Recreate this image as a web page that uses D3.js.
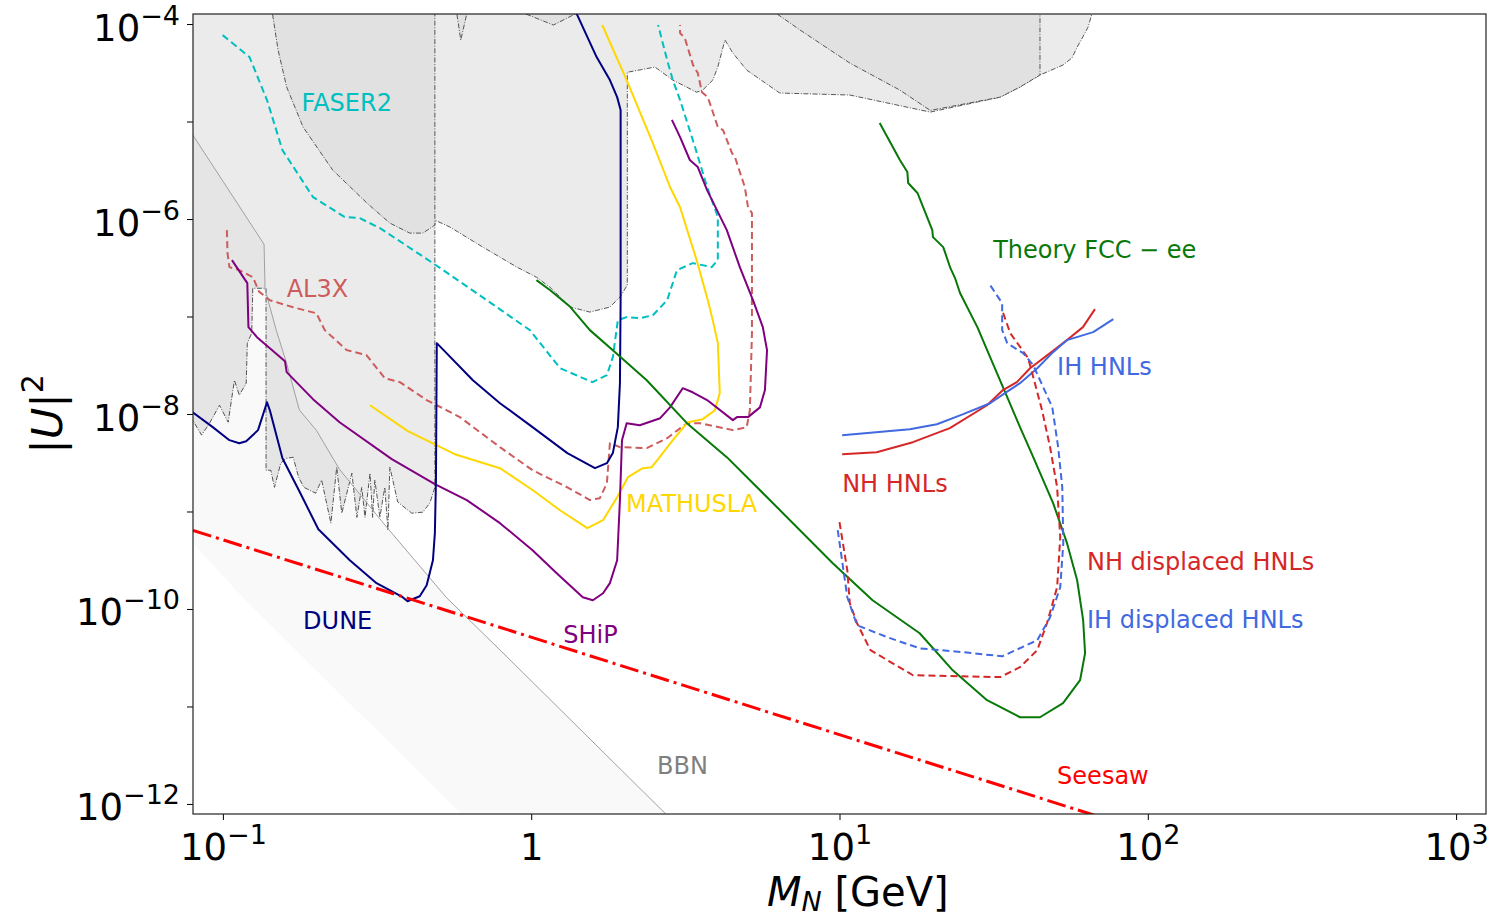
<!DOCTYPE html>
<html>
<head>
<meta charset="utf-8">
<script src="https://cdn.jsdelivr.net/npm/d3@7"></script>
<style>
  body { margin: 0; background: #fff; }
  text { font-family: "DejaVu Sans", sans-serif; }
</style>
</head>
<body>
<div class="canvas"></div>
<script>
// axis ticks
const massTicks = [0.1, 1, 10, 100, 1000]
const massTickLabels = [['10', '−1'], ['1', ''], ['10', '1'], ['10', '2'], ['10', '3']]
const mixingTicks = [1e-4, 1e-5, 1e-6, 1e-7, 1e-8, 1e-9, 1e-10, 1e-11, 1e-12]
const mixingTickLabels = [['10', '−4'], null, ['10', '−6'], null, ['10', '−8'], null, ['10', '−10'], null, ['10', '−12']]

// existing limits (grey areas), [mass GeV, |U|^2]
const excludedMain = [[0.07, 3e-4], [70, 3e-4], [66.8, 1.57e-4], [65.9, 1.27e-4], [64.0, 9.3e-5], [61.6, 7.4e-5], [59.0, 5.8e-5], [56.8, 4.5e-5], [53.1, 3.8e-5], [44.7, 3.0e-5], [38.5, 2.26e-5], [33.2, 1.78e-5], [19.7, 1.25e-5], [10.8, 1.87e-5], [6.40, 1.96e-5], [5.00, 3.37e-5], [4.51, 5.04e-5], [4.25, 6.85e-5], [4.03, 3.62e-5], [3.88, 2.66e-5], [3.60, 2.10e-5], [3.44, 2.0e-5], [2.88, 2.66e-5], [2.52, 3.62e-5], [2.05, 3.2e-5], [2.05, 2.10e-7], [1.94, 1.58e-7], [1.80, 1.25e-7], [1.55, 1.11e-7], [1.34, 1.25e-7], [1.15, 2.0e-7], [1.04, 2.53e-7], [0.899, 3.21e-7], [0.697, 5.15e-7], [0.545, 8.27e-7], [0.487, 9.75e-7], [0.487, 1.77e-9], [0.469, 1.22e-9], [0.445, 9.84e-10], [0.410, 9.6e-10], [0.369, 1.25e-9], [0.348, 2.85e-9], [0.343, 6.4e-10], [0.335, 1.77e-9], [0.323, 8.7e-10], [0.311, 2.1e-9], [0.306, 8.7e-10], [0.300, 2.47e-9], [0.289, 8.7e-10], [0.282, 1.77e-9], [0.272, 8.7e-10], [0.262, 2.47e-9], [0.243, 9.6e-10], [0.234, 2.85e-9], [0.224, 7.6e-10], [0.209, 2.1e-9], [0.200, 1.54e-9], [0.183, 1.77e-9], [0.176, 2.25e-9], [0.169, 3.6e-9], [0.160, 3.5e-9], [0.154, 3.13e-9], [0.147, 1.77e-9], [0.143, 2.65e-9], [0.138, 2.65e-9], [0.138, 1.95e-7], [0.125, 1.95e-7], [0.124, 6.75e-8], [0.120, 5.33e-8], [0.119, 2.07e-8], [0.113, 1.56e-8], [0.109, 2.22e-8], [0.104, 8.24e-9], [0.0975, 1.23e-8], [0.0905, 8.05e-9], [0.0853, 6.07e-9], [0.0798, 8.65e-9], [0.075, 1.2e-8]]
const excludedDark1 = [[0.145, 3e-4], [0.145, 1.24e-4], [0.151, 5.41e-5], [0.161, 2.26e-5], [0.182, 8.78e-6], [0.227, 3.18e-6], [0.293, 1.46e-6], [0.348, 9.08e-7], [0.404, 7.17e-7], [0.445, 7.17e-7], [0.487, 8.67e-7], [0.487, 3e-4]]
const excludedDark2 = [[6.2, 3e-4], [6.27, 1.27e-4], [7.45, 8.68e-5], [10.8, 3.98e-5], [15.7, 2.1e-5], [19.7, 1.3e-5], [33.2, 1.78e-5], [38.5, 2.26e-5], [44.7, 3.0e-5], [44.7, 3e-4]]
const excludedDip = [[0.95, 3e-4], [0.96, 1.27e-4], [1.18, 9.77e-5], [1.39, 1.27e-4], [1.40, 3e-4]]
const excludedSpike = [[0.574, 3e-4], [0.574, 1.27e-4], [0.591, 6.85e-5], [0.618, 1.27e-4], [0.618, 3e-4]]

// BBN band
const bbnUpper = [[0.0725, 1.16e-5], [0.0798, 7.3e-6], [0.136, 5.5e-7], [0.137, 1.9e-7], [0.149, 7.2e-8], [0.161, 3.3e-8], [0.177, 1.1e-8], [0.201, 6.8e-9], [0.239, 2.7e-9], [0.340, 6.9e-10], [0.532, 1.3e-10], [0.792, 3.8e-11], [2.72, 8e-13], [3.53, 3.7e-13]]
const bbnLower = [[0.681, 5.1e-13], [0.119, 1.2e-10], [0.0725, 6.6e-10]]

// sensitivity curves
const faser2 = [[0.0998, 7.7e-5], [0.122, 4.58e-5], [0.139, 1.66e-5], [0.156, 5.09e-6], [0.196, 1.68e-6], [0.248, 1.05e-6], [0.278, 1.02e-6], [0.323, 8.07e-7], [0.480, 3.53e-7], [0.718, 1.47e-7], [0.99, 7.25e-8], [1.24, 2.95e-8], [1.58, 2.12e-8], [1.76, 2.5e-8], [1.84, 3.83e-8], [1.91, 9.18e-8], [2.04, 9.86e-8], [2.25, 9.62e-8], [2.48, 1.03e-7], [2.76, 1.47e-7], [2.97, 2.99e-7], [3.34, 3.53e-7], [3.85, 3.21e-7], [4.03, 3.79e-7], [4.03, 1.05e-6], [3.72, 2.13e-6], [3.40, 5.47e-6], [3.04, 1.66e-5], [2.88, 2.66e-5], [2.76, 4.27e-5], [2.58, 9.77e-5]]
const al3x = [[0.103, 7.69e-7], [0.1035, 4.47e-7], [0.105, 3.21e-7], [0.113, 2.99e-7], [0.125, 2.54e-7], [0.131, 1.8e-7], [0.142, 1.47e-7], [0.168, 1.25e-7], [0.201, 1.08e-7], [0.214, 7.25e-8], [0.252, 4.52e-8], [0.292, 4.02e-8], [0.335, 2.33e-8], [0.375, 2.12e-8], [0.458, 1.39e-8], [0.587, 9.29e-9], [0.792, 4.57e-9], [1.01, 2.65e-9], [1.31, 1.77e-9], [1.55, 1.31e-9], [1.67, 1.37e-9], [1.76, 1.95e-9], [1.80, 5.02e-9], [1.94, 4.57e-9], [2.37, 4.47e-9], [2.76, 5.65e-9], [3.20, 8.05e-9], [3.53, 8.05e-9], [4.51, 6.83e-9], [5.00, 7.33e-9], [5.12, 1.09e-8], [5.20, 6.75e-8], [5.20, 1.15e-6], [5.05, 1.32e-6], [4.93, 2.13e-6], [4.58, 4.32e-6], [4.48, 4.74e-6], [4.19, 8.17e-6], [4.03, 8.78e-6], [3.74, 1.78e-5], [3.58, 2.0e-5], [3.47, 3.14e-5], [3.35, 3.79e-5], [3.15, 7.18e-5], [3.04, 8.09e-5], [3.04, 9.77e-5]]
const dune = [[0.0798, 1.04e-8], [0.0927, 7.33e-9], [0.105, 5.39e-9], [0.113, 5.02e-9], [0.119, 5.26e-9], [0.130, 6.83e-9], [0.139, 1.32e-8], [0.142, 1.09e-8], [0.156, 3.52e-9], [0.177, 1.61e-9], [0.204, 6.58e-10], [0.258, 3.16e-10], [0.315, 1.84e-10], [0.383, 1.32e-10], [0.397, 1.2e-10], [0.435, 1.35e-10], [0.458, 1.75e-10], [0.480, 3.16e-10], [0.487, 5.98e-10], [0.491, 2.1e-9], [0.494, 5.33e-8], [0.647, 2.22e-8], [0.792, 1.29e-8], [1.01, 7.33e-9], [1.31, 3.97e-9], [1.61, 2.78e-9], [1.76, 3.13e-9], [1.84, 3.97e-9], [1.91, 7.33e-9], [1.94, 2.07e-8], [1.95, 1.47e-7], [1.95, 1.31e-5], [1.90, 1.78e-5], [1.80, 2.66e-5], [1.63, 4.58e-5], [1.41, 1.24e-4], [1.37, 1.46e-4]]
const ship = [[0.107, 3.79e-7], [0.120, 2.2e-7], [0.121, 7.78e-8], [0.129, 6.14e-8], [0.159, 3.48e-8], [0.161, 2.69e-8], [0.196, 1.42e-8], [0.239, 8.24e-9], [0.353, 3.44e-9], [0.487, 1.91e-9], [0.618, 1.31e-9], [0.792, 7.59e-10], [1.01, 4.01e-10], [1.21, 2.33e-10], [1.47, 1.32e-10], [1.585, 1.23e-10], [1.71, 1.45e-10], [1.80, 1.84e-10], [1.90, 3.16e-10], [1.94, 1.31e-9], [1.97, 5.39e-9], [2.04, 8.05e-9], [2.25, 7.67e-9], [2.62, 9.06e-9], [2.82, 1.17e-8], [3.10, 1.84e-8], [3.34, 1.67e-8], [3.72, 1.39e-8], [4.51, 8.65e-9], [4.65, 9.29e-9], [5.05, 9.29e-9], [5.52, 1.17e-8], [5.73, 1.76e-8], [5.82, 4.52e-8], [5.64, 7.78e-8], [5.24, 1.47e-7], [4.75, 3.21e-7], [4.31, 7.69e-7], [3.72, 1.98e-6], [3.47, 3.41e-6], [3.27, 4.03e-6], [3.04, 6.93e-6], [2.86, 1.04e-5]]
const mathusla = [[0.300, 1.23e-8], [0.398, 6.67e-9], [0.565, 3.87e-9], [0.792, 2.78e-9], [1.01, 1.66e-9], [1.24, 1.03e-9], [1.52, 6.74e-10], [1.71, 8.14e-10], [1.90, 1.4e-9], [2.06, 2.25e-9], [2.30, 2.78e-9], [2.46, 2.85e-9], [2.61, 3.61e-9], [2.88, 5.39e-9], [3.22, 8.24e-9], [3.60, 8.85e-9], [3.94, 1.09e-8], [4.09, 1.64e-8], [4.03, 5.33e-8], [3.88, 9.18e-8], [3.74, 1.47e-7], [3.44, 3.79e-7], [3.04, 1.32e-6], [2.82, 2.13e-6], [2.48, 6.01e-6], [2.04, 2.66e-5], [1.70, 9.77e-5]]
const fccTheory = [[1.04, 2.36e-7], [1.15, 1.87e-7], [1.34, 1.25e-7], [1.55, 7.25e-8], [1.84, 4.52e-8], [2.37, 2.22e-8], [3.20, 8.05e-9], [4.31, 3.61e-9], [5.82, 1.4e-9], [9.51, 2.95e-10], [12.8, 1.23e-10], [18.2, 5.64e-11], [23.3, 2.35e-11], [30.1, 1.16e-11], [38.5, 7.75e-12], [44.7, 7.75e-12], [53.1, 1.08e-11], [60.3, 1.86e-11], [62.6, 3.52e-11], [61.7, 7.67e-11], [59.0, 1.97e-10], [54.7, 4.73e-10], [49.3, 1.22e-9], [42.5, 3.61e-9], [38.5, 7.33e-9], [35.0, 1.49e-8], [30.8, 3.83e-8], [28.0, 7.78e-8], [24.6, 1.74e-7], [23.7, 2.48e-7], [22.9, 3.13e-7], [21.7, 5.15e-7], [20.1, 6.52e-7], [20.0, 7.69e-7], [17.9, 1.85e-6], [16.7, 2.34e-6], [16.6, 3.03e-6], [15.7, 4.03e-6], [13.5, 9.64e-6]]
const nhHnl = [[10.2, 3.87e-9], [13.2, 4.06e-9], [17.3, 5.14e-9], [22.8, 7.16e-9], [30.1, 1.23e-8], [33.9, 1.76e-8], [37.6, 2.12e-8], [41.5, 2.95e-8], [48.2, 4.21e-8], [54.7, 5.73e-8], [61.6, 7.78e-8], [67.4, 1.19e-7]]
const ihHnl = [[10.2, 6.07e-9], [16.9, 6.99e-9], [20.7, 7.86e-9], [25.2, 9.96e-9], [30.8, 1.29e-8], [34.4, 1.64e-8], [38.5, 2.07e-8], [43.8, 2.95e-8], [49.3, 4.31e-8], [54.7, 5.73e-8], [66.5, 6.92e-8], [77.3, 9.4e-8]]
const nhDisplaced = [[10.0, 7.77e-10], [10.6, 2.5e-10], [10.8, 1.15e-10], [11.4, 7.14e-11], [12.6, 3.78e-11], [17.3, 2.09e-11], [33.2, 2.0e-11], [38.5, 2.53e-11], [43.8, 3.78e-11], [47.1, 7.14e-11], [50.8, 1.67e-10], [52.0, 5.44e-10], [50.8, 1.77e-9], [48.2, 4.57e-9], [45.4, 1.09e-8], [42.5, 2.39e-8], [40.9, 3.74e-8], [35.8, 6.75e-8], [33.7, 1.16e-7]]
const ihDisplaced = [[9.87, 6.43e-10], [10.3, 2.5e-10], [10.6, 1.32e-10], [11.4, 6.81e-11], [14.3, 5.13e-11], [18.2, 3.95e-11], [25.2, 3.6e-11], [33.7, 3.27e-11], [43.8, 4.78e-11], [48.2, 8.22e-11], [52.0, 1.67e-10], [53.2, 4.73e-10], [52.8, 1.77e-9], [51.2, 4.57e-9], [49.0, 1.17e-8], [45.8, 1.88e-8], [42.5, 3.17e-8], [39.4, 4.21e-8], [35.0, 5.33e-8], [33.7, 7.25e-8], [33.7, 1.37e-7], [30.8, 2.1e-7]]
const seesaw = [[0.08, 6.4e-10], [100, 5.15e-13]]

// text annotations
const labelNames = ['FASER2', 'AL3X', 'DUNE', 'SHiP', 'MATHUSLA', 'Theory FCC − ee', 'NH HNLs', 'IH HNLs', 'NH displaced HNLs', 'IH displaced HNLs', 'Seesaw', 'BBN']
const labelMass = [0.180, 0.161, 0.182, 1.27, 2.03, 31.5, 10.2, 50.8, 63.5, 63.5, 50.8, 2.56]
const labelMixing = [1.28e-5, 1.58e-7, 6.2e-11, 4.46e-11, 9.84e-10, 3.97e-7, 1.58e-9, 2.51e-8, 2.5e-10, 6.36e-11, 1.59e-12, 2.02e-12]
const labelColors = ['#00bfbf', '#cd5c5c', '#000080', '#800080', '#ffd700', '#087808', '#d62728', '#4169e1', '#d62728', '#4169e1', '#ff0000', '#808080']

const margin = { top: 14, right: 8, bottom: 106, left: 193 }
const svgWidth = 1494, svgHeight = 920
const graphWidth = 1293, graphHeight = 800

const svg = d3.select('.canvas')
  .append('svg')
  .attr('width', svgWidth)
  .attr('height', svgHeight)
  .style('background', '#fff')

const graph = svg.append('g')
  .attr('transform', `translate(${margin.left}, ${margin.top})`)

// scales
const x = d3.scaleLog().domain([10 ** -1.097, 10 ** 3.097]).range([0, graphWidth])
const y = d3.scaleLog().domain([10 ** -12.103, 10 ** -3.897]).range([graphHeight, 0])

svg.append('defs').append('clipPath').attr('id', 'plot-clip')
  .append('rect').attr('width', graphWidth).attr('height', graphHeight)

const plot = graph.append('g').attr('clip-path', 'url(#plot-clip)')

const line = d3.line()
  .x(d => x(d[0]))
  .y(d => y(d[1]))

// grey constraint areas
const dashDot = '5,1.6,1,1.6'
const areas = [
  { data: excludedMain, fill: '#ebebeb' },
  { data: excludedDark1, fill: '#e1e1e1' },
  { data: excludedDark2, fill: '#e1e1e1' },
  { data: excludedDip, fill: '#e1e1e1' },
  { data: excludedSpike, fill: '#e1e1e1' }
]
areas.forEach(a => {
  plot.append('path')
    .attr('d', line(a.data) + 'Z')
    .attr('fill', a.fill)
    .attr('stroke', '#444')
    .attr('stroke-width', 0.9)
    .attr('stroke-dasharray', dashDot)
})

// BBN band (translucent) and its edge
plot.append('path')
  .attr('d', line(bbnUpper.concat(bbnLower)) + 'Z')
  .attr('fill', 'rgba(0,0,0,0.025)')
  .attr('stroke', 'none')

plot.append('path')
  .attr('d', line(bbnUpper))
  .attr('fill', 'none')
  .attr('stroke', '#a0a0a0')
  .attr('stroke-width', 1)

// curves
const curves = [
  { data: faser2, color: '#00bfbf', dash: '7,4' },
  { data: al3x, color: '#cd5c5c', dash: '7,4' },
  { data: mathusla, color: '#ffd700', dash: null },
  { data: ship, color: '#800080', dash: null },
  { data: dune, color: '#000080', dash: null },
  { data: fccTheory, color: '#087808', dash: null },
  { data: nhHnl, color: '#d62728', dash: null },
  { data: ihHnl, color: '#4169e1', dash: null },
  { data: nhDisplaced, color: '#d62728', dash: '7,4' },
  { data: ihDisplaced, color: '#4169e1', dash: '7,4' }
]
curves.forEach(c => {
  plot.append('path')
    .attr('d', line(c.data))
    .attr('fill', 'none')
    .attr('stroke', c.color)
    .attr('stroke-width', 2)
    .attr('stroke-linejoin', 'round')
    .attr('stroke-dasharray', c.dash)
})

plot.append('path')
  .attr('d', line(seesaw))
  .attr('fill', 'none')
  .attr('stroke', '#ff0000')
  .attr('stroke-width', 3)
  .attr('stroke-dasharray', '19,5,3,5')

// annotations
graph.selectAll('text.note')
  .data(labelNames)
  .enter()
  .append('text')
  .attr('class', 'note')
  .attr('x', (d, i) => x(labelMass[i]))
  .attr('y', (d, i) => y(labelMixing[i]))
  .attr('font-size', 24)
  .attr('fill', (d, i) => labelColors[i])
  .text(d => d)

// axes
const xAxisGroup = graph.append('g')
  .attr('transform', `translate(0, ${graphHeight})`)
  .call(d3.axisBottom(x).tickValues(massTicks).tickSize(6))

const yAxisGroup = graph.append('g')
  .call(d3.axisLeft(y).tickValues(mixingTicks).tickSize(6))

xAxisGroup.select('.domain').remove()
yAxisGroup.select('.domain').remove()
xAxisGroup.attr('font-size', null).attr('font-family', null)
yAxisGroup.attr('font-size', null).attr('font-family', null)

xAxisGroup.selectAll('.tick').each(function (d, i) {
  const t = d3.select(this).select('text').text(null)
    .attr('y', 46).attr('dy', null)
    .attr('font-size', 37).attr('fill', '#000')
  t.append('tspan').text(massTickLabels[i][0])
  if (massTickLabels[i][1]) {
    t.append('tspan').attr('dy', -16).attr('font-size', 27).text(massTickLabels[i][1])
  }
})

yAxisGroup.selectAll('.tick').each(function (d, i) {
  const t = d3.select(this).select('text').text(null)
    .attr('x', -13).attr('y', 16).attr('dy', null)
    .attr('font-size', 37).attr('fill', '#000')
  const lab = mixingTickLabels[i]
  if (!lab) return
  t.append('tspan').text(lab[0])
  t.append('tspan').attr('dy', -16).attr('font-size', 27).text(lab[1])
})

// frame
graph.append('rect')
  .attr('width', graphWidth)
  .attr('height', graphHeight)
  .attr('fill', 'none')
  .attr('stroke', '#222')
  .attr('stroke-width', 1.2)

// axis titles
const xTitle = graph.append('text')
  .attr('x', 574)
  .attr('y', 892)
  .attr('font-size', 40)
xTitle.append('tspan').attr('font-style', 'italic').text('M')
xTitle.append('tspan').attr('font-style', 'italic').attr('font-size', 27).attr('dy', 5).text('N')
xTitle.append('tspan').attr('dy', -5).text(' [GeV]')

const yTitle = graph.append('text')
  .attr('transform', `translate(${62 - margin.left}, ${graphHeight / 2}) rotate(-90)`)
  .attr('text-anchor', 'middle')
  .attr('font-size', 43)
yTitle.append('tspan').text('|')
yTitle.append('tspan').attr('font-style', 'italic').text('U')
yTitle.append('tspan').text('|')
yTitle.append('tspan').attr('dy', -19).attr('font-size', 30).text('2')
</script>
</body>
</html>
